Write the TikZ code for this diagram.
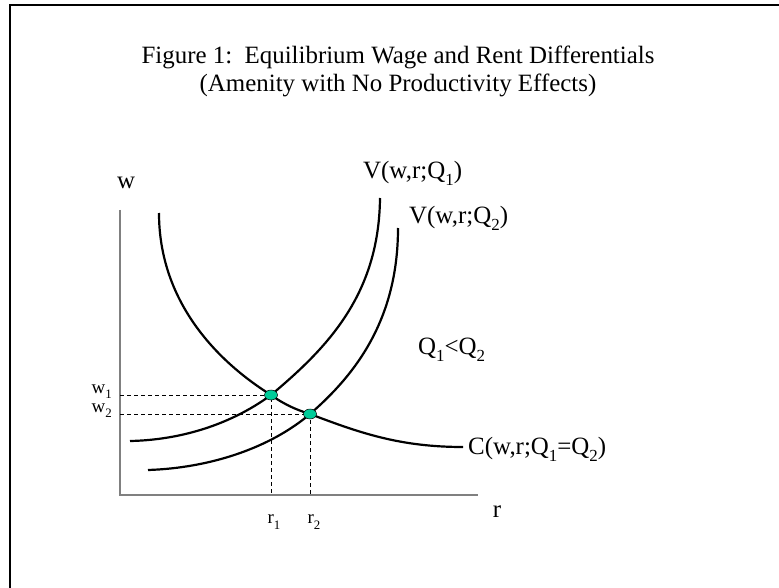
\documentclass[tikz,border=0pt]{standalone}
\usepackage{fontspec}
\setmainfont{Liberation Serif}
\usetikzlibrary{positioning, calc, shapes.geometric}

\definecolor{dotgreen}{RGB}{0,204,153}
\definecolor{axisgray}{RGB}{128,128,128}
\newcommand{\lowsub}[1]{\raisebox{-0.28em}{\scalebox{0.68}{#1}}}

\begin{document}
\begin{tikzpicture}[
    x=1bp, y=-1bp,
    big/.style={font=\fontsize{25}{28}\selectfont, inner sep=0pt},
    small/.style={font=\fontsize{19}{21}\selectfont, inner sep=0pt},
    curve/.style={line width=2.2bp, black},
    axis/.style={line width=1.5bp, axisgray},
    guide/.style={line width=0.9bp, dash pattern=on 4bp off 3bp},
    eqdot/.style={ellipse, draw=black, line width=0.5bp, fill=dotgreen, minimum width=13bp, minimum height=10bp, inner sep=0pt},
]
\useasboundingbox (0,0) rectangle (779,588);
\draw[line width=2bp] (10,588) -- (10,5.5) -- (779,5.5);

\node[big, align=center] (title) at (398,71) {Figure 1:\ \ Equilibrium Wage and Rent Differentials\\(Amenity with No Productivity Effects)};

\coordinate (O) at (120,495);
\coordinate (ytop) at (120,210);
\coordinate (xend) at (478,495);
\coordinate (e1) at (271,395);
\coordinate (e2) at (310,414);
\draw[axis] (ytop) -- (O) -- (xend);
\node[big] (wlab) at (126,183) {w};
\node[big] (rlab) at (497,512) {r};

\draw[guide] (O |- e1) -- (e1) -- (e1 |- O);
\draw[guide] (O |- e2) -- (e2) -- (e2 |- O);

\draw[curve] (159,213) .. controls (159,300) and (215,360) .. (e1)
    .. controls (285,405) and (297,410) .. (e2)
    .. controls (360,433) and (400,447) .. (463,447);
\draw[curve] (380,198) .. controls (379,295) and (327,348) .. (e1)
    .. controls (230,425) and (180,440) .. (130,441);
\draw[curve] (398,228) .. controls (398,320) and (355,375) .. (e2)
    .. controls (270,448) and (210,468) .. (148,470);

\node[eqdot] (p1) at (e1) {};
\node[eqdot] (p2) at (e2) {};

\node[small, anchor=east] (w1) at (112,392) {w\lowsub{1}};
\node[small, anchor=east] (w2) at (112,411) {w\lowsub{2}};
\node[small] (r1) at (274,522) {r\lowsub{1}};
\node[small] (r2) at (314,522) {r\lowsub{2}};

\node[big, anchor=west] (v1lab) at (363,173) {V(w,r;Q\lowsub{1})};
\node[big, anchor=west] (v2lab) at (409,218) {V(w,r;Q\lowsub{2})};
\node[big, anchor=west] (qlab) at (418,350) {Q\lowsub{1}<Q\lowsub{2}};
\node[big, anchor=west] (clab) at (468,449) {C(w,r;Q\lowsub{1}=Q\lowsub{2})};
\end{tikzpicture}
\end{document}
